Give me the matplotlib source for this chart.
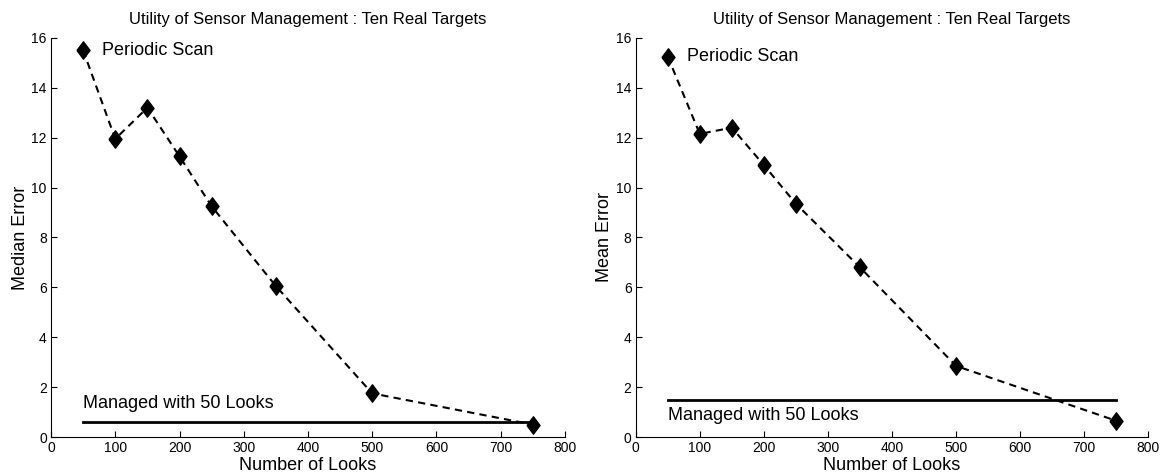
import matplotlib
matplotlib.use("Agg")
import matplotlib.pyplot as plt

plt.rcParams['font.family'] = ['Liberation Sans', 'DejaVu Sans']

looks = [50, 100, 150, 200, 250, 350, 500, 750]
median_err = [15.5, 11.95, 13.2, 11.25, 9.25, 6.05, 1.75, 0.5]
mean_err = [15.25, 12.15, 12.4, 10.9, 9.35, 6.8, 2.85, 0.65]
managed_median = 0.6
managed_mean = 1.5
managed_x = [50, 750]
title = "Utility of Sensor Management : Ten Real Targets"
xticks = [0, 100, 200, 300, 400, 500, 600, 700, 800]
yticks = [0, 2, 4, 6, 8, 10, 12, 14, 16]

diamond = [(-0.75, 0), (0, 1), (0.75, 0), (0, -1), (-0.75, 0)]

fig = plt.figure(figsize=(11.6, 4.73), dpi=100)
ax1 = fig.add_axes([0.044, 0.076, 0.443, 0.844])
ax2 = fig.add_axes([0.548, 0.076, 0.442, 0.844])

def style(ax, ylabel):
    ax.set_xlim(0, 800)
    ax.set_ylim(0, 16)
    ax.set_xticks(xticks)
    ax.set_yticks(yticks)
    ax.tick_params(direction='in', labelsize=10, length=4.5, width=0.8, pad=3)
    for s in ['top', 'right']:
        ax.spines[s].set_visible(False)
    ax.set_title(title, fontsize=12, pad=10)
    ax.set_xlabel("Number of Looks", fontsize=13, labelpad=1)
    ax.set_ylabel(ylabel, fontsize=13, labelpad=2)

for ax, vals, mval in [(ax1, median_err, managed_median), (ax2, mean_err, managed_mean)]:
    ax.plot(looks, vals, color='black', linestyle=(0, (3.5, 2.5)), lw=1.5,
            marker=diamond, markersize=12.5, markerfacecolor='black', clip_on=False)
    ax.plot(managed_x, [mval] * 2, color='black', lw=2)

ax1.text(80, 15.5, "Periodic Scan", fontsize=13, va='center')
ax1.text(50, 1.0, "Managed with 50 Looks", fontsize=13, va='bottom')
style(ax1, "Median Error")

ax2.text(80, 15.25, "Periodic Scan", fontsize=13, va='center')
ax2.text(50, 0.85, "Managed with 50 Looks", fontsize=13, va='center')
style(ax2, "Mean Error")

fig.savefig("out.png", dpi=100)
